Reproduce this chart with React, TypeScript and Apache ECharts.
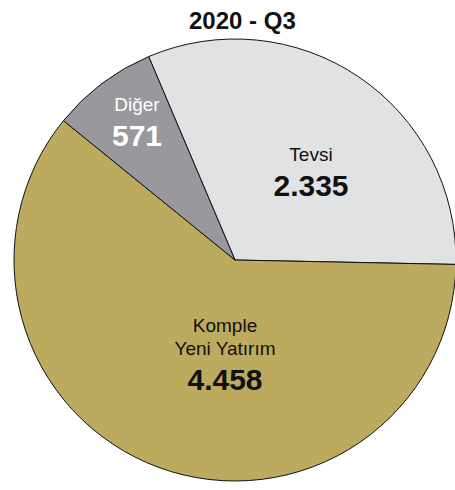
import React, { useEffect, useRef } from "react";
import * as echarts from "echarts";

const title = "2020 - Q3";
const categories = ["Tevsi", "Komple Yeni Yatırım", "Diğer"];
const values = [2335, 4458, 571];
const colors = ["#e1e2e4", "#bcaa5e", "#98989d"];
const labelColors = ["#111111", "#111111", "#ffffff"];

// label block centers relative to the pie center (layout only)
const labelOffsets: [number, number][] = [
  [76, -86],
  [-10, 96],
  [-98, -136.5],
];

const fmt = (v: number) => String(v).replace(/\B(?=(\d{3})+(?!\d))/g, ".");

const FONT = "'Liberation Sans', Arial, Helvetica, sans-serif";

export default function App() {
  const ref = useRef<HTMLDivElement>(null);
  useEffect(() => {
    document.body.style.margin = "0";
    if (!ref.current) return;
    const chart = echarts.init(ref.current, null, { renderer: "svg" });
    const cx = 235;
    const cy = 260;
    const R = 221;
    chart.setOption({
      animation: false,
      title: {
        text: title,
        left: 184,
        top: 3,
        textStyle: { fontFamily: FONT, fontSize: 24, fontWeight: "bold", color: "#111" },
      },
      series: [
        {
          type: "pie",
          center: [cx, cy],
          radius: R,
          startAngle: 113,
          clockwise: true,
          silent: true,
          emphasis: { disabled: true },
          labelLine: { show: false },
          itemStyle: { borderColor: "#111", borderWidth: 1 },
          data: categories.map((name, i) => ({
            name,
            value: values[i],
            itemStyle: { color: colors[i] },
            label: {
              rich: {
                n: { fontFamily: FONT, fontSize: 19, lineHeight: 23, color: labelColors[i] },
                v: {
                  fontFamily: FONT,
                  fontSize: 30,
                  fontWeight: "bold",
                  lineHeight: 39,
                  color: labelColors[i],
                },
              },
            },
          })),
          label: {
            show: true,
            position: "inside",
            align: "center",
            formatter: (p: any) => {
              const lines = String(p.name).replace(" ", "\n").split("\n");
              return lines.map((l: string) => `{n|${l}}`).join("\n") + `\n{v|${fmt(p.value)}}`;
            },
          },
          labelLayout: (params: any) => {
            const o = labelOffsets[params.dataIndex];
            return { x: cx + o[0], y: cy + o[1], align: "center", verticalAlign: "middle" };
          },
        },
      ],
    });
    return () => chart.dispose();
  }, []);
  return <div ref={ref} style={{ width: 455, height: 490 }} />;
}
